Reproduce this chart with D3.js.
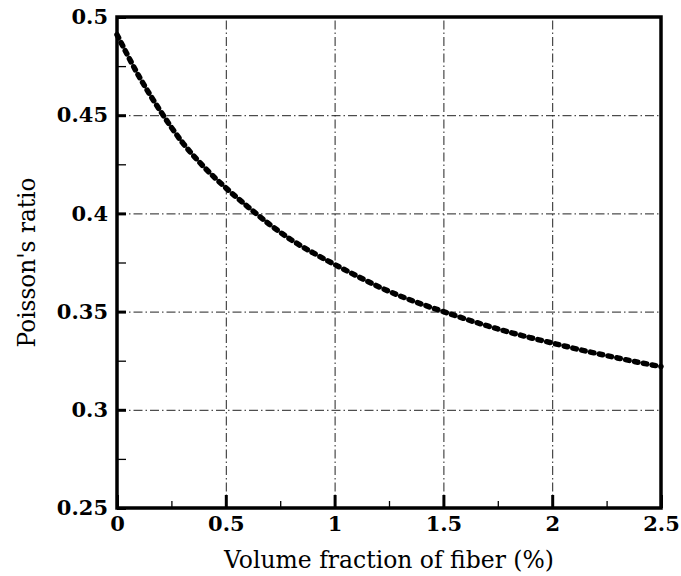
<!DOCTYPE html>
<html>
<head>
<meta charset="utf-8">
<script src="https://cdn.jsdelivr.net/npm/d3@7"></script>
<style>
  html, body { margin: 0; padding: 0; background: #fff; }
  svg { display: block; }
</style>
</head>
<body>
<svg id="chart" width="681" height="576"></svg>
<script>
// ---- data ----
const fiberFraction = [0, 0.1, 0.2, 0.3, 0.4, 0.5, 0.6, 0.7, 0.8, 0.9, 1.0,
  1.1, 1.2, 1.3, 1.4, 1.5, 1.6, 1.7, 1.8, 1.9, 2.0, 2.1, 2.2, 2.3, 2.4, 2.5];
const poissonRatio = [0.491, 0.470, 0.452, 0.4362, 0.4236, 0.413, 0.4035, 0.3945, 0.3866, 0.3800, 0.3740,
  0.3683, 0.3628, 0.3580, 0.3538, 0.3500, 0.3463, 0.3428, 0.3396, 0.3367, 0.3340,
  0.3313, 0.3288, 0.3264, 0.3241, 0.3220];
const xMajorTicks = [0, 0.5, 1, 1.5, 2, 2.5];
const xMinorTicks = [0.25, 0.75, 1.25, 1.75, 2.25];
const yMajorTicks = [0.25, 0.3, 0.35, 0.4, 0.45, 0.5];
const yMinorTicks = [0.275, 0.325, 0.375, 0.425, 0.475];
const xTitle = "Volume fraction of fiber (%)";
const yTitle = "Poisson's ratio";

// ---- layout ----
const mLeft = 117, mRight = 661, mTop = 17, mBottom = 508;
const svg = d3.select("#chart");
const x = d3.scaleLinear().domain([0, 2.5]).range([mLeft, mRight]);
const y = d3.scaleLinear().domain([0.25, 0.5]).range([mBottom, mTop]);
const fmt = d => d3.format("")(d);
const serif = "DejaVu Serif";

// grid
const gridDash = "9,3,1.5,3";
svg.append("g").attr("transform", `translate(0,${mBottom})`)
  .call(d3.axisBottom(x).tickValues(xMajorTicks.slice(1, -1)).tickSize(-(mBottom - mTop)).tickFormat(""))
  .call(g => g.select(".domain").remove())
  .call(g => g.selectAll("line").attr("stroke", "#222").attr("stroke-width", 1).attr("stroke-dasharray", gridDash));
svg.append("g").attr("transform", `translate(${mLeft},0)`)
  .call(d3.axisLeft(y).tickValues(yMajorTicks.slice(1, -1)).tickSize(-(mRight - mLeft)).tickFormat(""))
  .call(g => g.select(".domain").remove())
  .call(g => g.selectAll("line").attr("stroke", "#222").attr("stroke-width", 1).attr("stroke-dasharray", gridDash));

// minor ticks
svg.append("g").attr("transform", `translate(0,${mBottom})`)
  .call(d3.axisBottom(x).tickValues(xMinorTicks).tickSize(-7).tickFormat(""))
  .call(g => g.select(".domain").remove())
  .call(g => g.selectAll("line").attr("stroke", "#000").attr("stroke-width", 1.3));
svg.append("g").attr("transform", `translate(${mLeft},0)`)
  .call(d3.axisLeft(y).tickValues(yMinorTicks).tickSize(-9).tickFormat(""))
  .call(g => g.select(".domain").remove())
  .call(g => g.selectAll("line").attr("stroke", "#000").attr("stroke-width", 1.3));

// major ticks + labels
svg.append("g").attr("transform", `translate(0,${mBottom})`)
  .call(d3.axisBottom(x).tickValues(xMajorTicks).tickSize(-13).tickPadding(8).tickFormat(fmt))
  .call(g => g.select(".domain").remove())
  .attr("font-family", serif).attr("font-size", 21)
  .call(g => g.selectAll("line").attr("stroke", "#000").attr("stroke-width", 3))
  .call(g => g.selectAll("text").attr("font-weight", "bold").attr("fill", "#000"));
svg.append("g").attr("transform", `translate(${mLeft},0)`)
  .call(d3.axisLeft(y).tickValues(yMajorTicks).tickSize(-9).tickPadding(9).tickFormat(fmt))
  .call(g => g.select(".domain").remove())
  .attr("font-family", serif).attr("font-size", 21)
  .call(g => g.selectAll("line").attr("stroke", "#000").attr("stroke-width", 3))
  .call(g => g.selectAll("text").attr("font-weight", "bold").attr("fill", "#000"));

// curve
const pts = fiberFraction.map((v, i) => [v, poissonRatio[i]]);
const line = d3.line().x(d => x(d[0])).y(d => y(d[1])).curve(d3.curveMonotoneX);
svg.append("path").datum(pts)
  .attr("d", line)
  .attr("fill", "none")
  .attr("stroke", "#000")
  .attr("stroke-width", 5.5)
  .attr("stroke-linecap", "round")
  .attr("stroke-dasharray", "3.5,5.5");

// frame
svg.append("rect")
  .attr("x", mLeft).attr("y", mTop)
  .attr("width", mRight - mLeft).attr("height", mBottom - mTop)
  .attr("fill", "none").attr("stroke", "#000").attr("stroke-width", 3.5);

// titles
svg.append("text")
  .attr("x", (mLeft + mRight) / 2).attr("y", 568)
  .attr("text-anchor", "middle")
  .attr("font-size", 25).attr("font-family", serif)
  .attr("textLength", 330).attr("lengthAdjust", "spacingAndGlyphs")
  .text(xTitle);
svg.append("text")
  .attr("transform", `translate(35,${(mTop + mBottom) / 2}) rotate(-90)`)
  .attr("text-anchor", "middle")
  .attr("font-size", 25).attr("font-family", serif)
  .attr("textLength", 170).attr("lengthAdjust", "spacingAndGlyphs")
  .text(yTitle);
</script>
</body>
</html>
